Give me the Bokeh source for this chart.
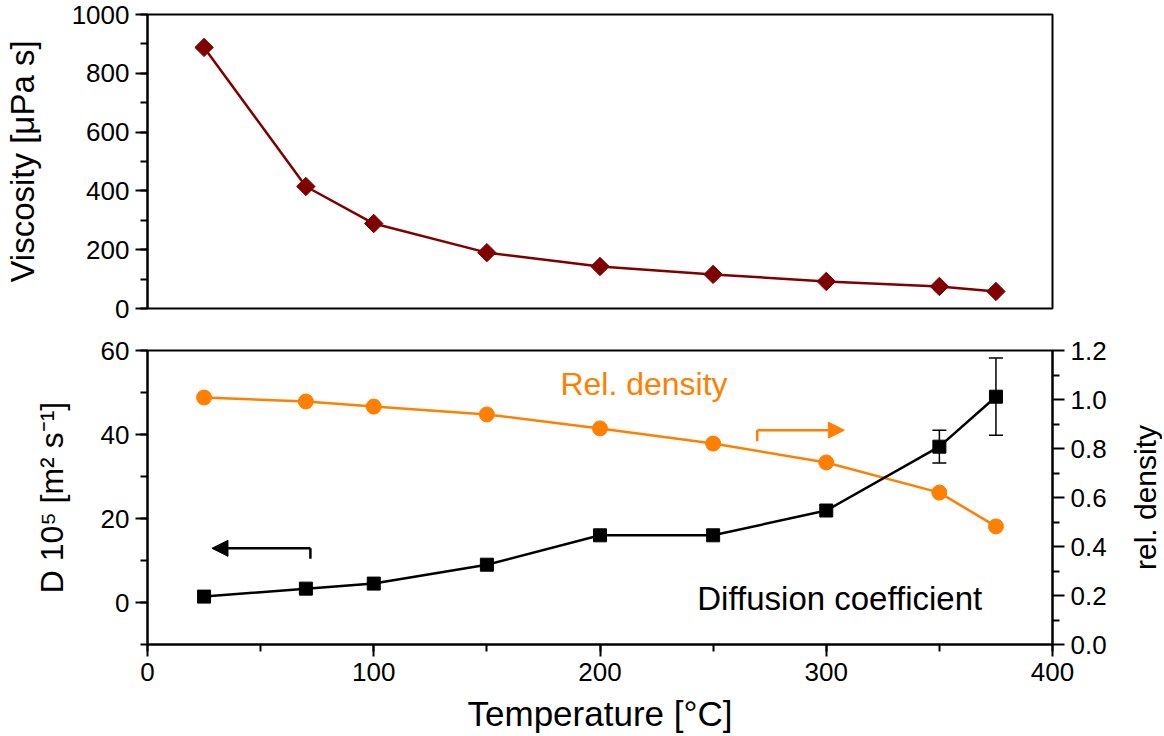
from bokeh.plotting import figure
from bokeh.layouts import column, row
from bokeh.models import (Range1d, LinearAxis, SingleIntervalTicker, FixedTicker, Whisker,
                          ColumnDataSource, Arrow, NormalHead, TeeHead, Label,
                          PrintfTickFormatter)
from bokeh.embed import file_html
from bokeh.resources import INLINE
import math

# ---------------- data ----------------
temperature = [25, 70, 100, 150, 200, 250, 300, 350, 375]
viscosity = [888, 415, 289, 190, 143, 116, 92, 75, 58]
diffusion = [1.4, 3.3, 4.5, 9.0, 16.0, 16.0, 21.9, 37.1, 49.0]
diffusion_err = [0, 0, 0, 0, 0, 0, 0, 3.9, 9.2]
rel_density = [1.008, 0.992, 0.971, 0.939, 0.882, 0.820, 0.743, 0.620, 0.482]
density_ticks = [0.0, 0.2, 0.4, 0.6, 0.8, 1.0, 1.2]
density_minor = [0.1, 0.3, 0.5, 0.7, 0.9, 1.1]

FONT = "Liberation Sans"
TICK_FS = "26px"
LABEL_FS = "33px"
DARKRED = "#800000"
ORANGE = "#FF8000"

FRAME_W = 905
FRAME_H = 294
LEFT = 147
RIGHT = 104
P2_RIGHT = 73


def style_axis(ax, standoff=None, label_fs=LABEL_FS):
    ax.axis_line_width = 2
    ax.axis_line_color = "black"
    ax.major_tick_line_width = 2
    ax.minor_tick_line_width = 2
    ax.major_tick_out = 12
    ax.major_tick_in = 0
    ax.minor_tick_out = 7
    ax.minor_tick_in = 0
    ax.major_label_text_font = FONT
    ax.major_label_text_font_size = TICK_FS
    ax.major_label_text_color = "black"
    ax.major_label_standoff = 6
    ax.axis_label_text_font = FONT
    ax.axis_label_text_font_size = label_fs
    ax.axis_label_text_font_style = "normal"
    ax.axis_label_text_color = "black"
    if standoff is not None:
        ax.axis_label_standoff = standoff


def base_fig(y_range, top, bottom, right):
    p = figure(frame_width=FRAME_W, frame_height=FRAME_H,
               x_range=Range1d(0, 400), y_range=y_range,
               output_backend="svg", toolbar_location=None,
               min_border_left=LEFT, min_border_right=right,
               min_border_top=top, min_border_bottom=bottom)
    p.grid.visible = False
    p.outline_line_color = "black"
    p.outline_line_width = 2
    p.outline_line_alpha = 1
    p.background_fill_color = "white"
    p.border_fill_color = "white"
    return p


# ---------------- top panel: viscosity ----------------
p1 = base_fig(Range1d(0, 1000), 14, 20, RIGHT)
p1.xaxis.visible = False
p1.yaxis.ticker = SingleIntervalTicker(interval=200, num_minor_ticks=2)
p1.yaxis.axis_label = "Viscosity [μPa s]"
style_axis(p1.yaxis[0], 28)

p1.line(temperature, viscosity, line_color=DARKRED, line_width=2.5)
p1.scatter(temperature, viscosity, marker="square", angle=math.pi / 4, size=13,
           fill_color=DARKRED, line_color=DARKRED)

# ---------------- bottom panel: diffusion + density ----------------
p2 = base_fig(Range1d(-10, 60), 22, 92, P2_RIGHT)
p2.extra_y_ranges = {"dens": Range1d(0, 1.2)}
p2.xaxis.ticker = SingleIntervalTicker(interval=100, num_minor_ticks=2)
p2.xaxis.axis_label = "Temperature [°C]"
style_axis(p2.xaxis[0], 10, "35px")
p2.yaxis.ticker = SingleIntervalTicker(interval=20, num_minor_ticks=2)
p2.yaxis.axis_label = "D 10⁵ [m² s⁻¹]"
style_axis(p2.yaxis[0], 28, "32px")

raxis = LinearAxis(y_range_name="dens",
                   ticker=FixedTicker(ticks=density_ticks, minor_ticks=density_minor),
                   formatter=PrintfTickFormatter(format="%.1f"))
style_axis(raxis)
p2.add_layout(raxis, "right")

# density
p2.line(temperature, rel_density, y_range_name="dens", line_color=ORANGE, line_width=2.5)
p2.scatter(temperature, rel_density, y_range_name="dens", marker="circle", size=15,
           fill_color=ORANGE, line_color=ORANGE)

# diffusion
p2.line(temperature, diffusion, line_color="black", line_width=2.5)
src = ColumnDataSource(dict(
    x=[t for t, e in zip(temperature, diffusion_err) if e > 0],
    lower=[d - e for d, e in zip(diffusion, diffusion_err) if e > 0],
    upper=[d + e for d, e in zip(diffusion, diffusion_err) if e > 0],
))
wh = Whisker(source=src, base="x", lower="lower", upper="upper",
             line_color="black", line_width=1.5,
             upper_head=TeeHead(size=14, line_color="black", line_width=1.5),
             lower_head=TeeHead(size=14, line_color="black", line_width=1.5))
p2.add_layout(wh)
p2.scatter(temperature, diffusion, marker="square", size=13,
           fill_color="black", line_color="black")

# annotations: arrows
arrow_black_x = [72, 72, 28.5]
arrow_black_y = [10.4, 12.9, 12.9]
p2.line(arrow_black_x[:2], arrow_black_y[:2], line_color="black", line_width=2.5)
p2.add_layout(Arrow(x_start=arrow_black_x[1], y_start=arrow_black_y[1],
                    x_end=arrow_black_x[2], y_end=arrow_black_y[2],
                    line_color="black", line_width=2.5,
                    end=NormalHead(size=16, fill_color="black", line_color="black", line_width=1)))

arrow_orange_x = [269.5, 269.5, 308]
arrow_orange_y = [0.83, 0.875, 0.875]
p2.line(arrow_orange_x[:2], arrow_orange_y[:2], y_range_name="dens",
        line_color=ORANGE, line_width=2.5)
p2.add_layout(Arrow(x_start=arrow_orange_x[1], y_start=arrow_orange_y[1],
                    x_end=arrow_orange_x[2], y_end=arrow_orange_y[2], y_range_name="dens",
                    line_color=ORANGE, line_width=2.5,
                    end=NormalHead(size=16, fill_color=ORANGE, line_color=ORANGE, line_width=1)))

p2.add_layout(Label(x=182.5, y=52.0, text="Rel. density", text_font=FONT,
                    text_font_size="32px", text_color=ORANGE, text_baseline="alphabetic"))
p2.add_layout(Label(x=243, y=1.0, text="Diffusion coefficient", text_font=FONT,
                    text_font_size="33px", text_color="black", text_baseline="alphabetic"))

# ---------------- narrow side strip: its left-axis title is the density axis title ----------------
side = figure(frame_width=1, frame_height=FRAME_H,
              x_range=Range1d(0, 1), y_range=Range1d(0, 1.2),
              output_backend="svg", toolbar_location=None,
              min_border_left=0, min_border_right=0,
              min_border_top=22, min_border_bottom=92)
side.xaxis.visible = False
side.grid.visible = False
side.outline_line_color = None
side.background_fill_color = "white"
side.border_fill_color = "white"
sax = side.yaxis[0]
sax.ticker = FixedTicker(ticks=[], minor_ticks=[])
sax.axis_line_color = None
sax.major_tick_line_color = None
sax.minor_tick_line_color = None
sax.major_tick_out = 0
sax.major_tick_in = 0
sax.minor_tick_out = 0
sax.minor_tick_in = 0
sax.axis_label = "rel. density"
sax.axis_label_standoff = 0
sax.axis_label_text_font = FONT
sax.axis_label_text_font_size = "30px"
sax.axis_label_text_font_style = "normal"
sax.axis_label_text_color = "black"

layout = column(p1, row(p2, side, spacing=0), spacing=0)
open("out.html", "w").write(file_html(layout, INLINE))
